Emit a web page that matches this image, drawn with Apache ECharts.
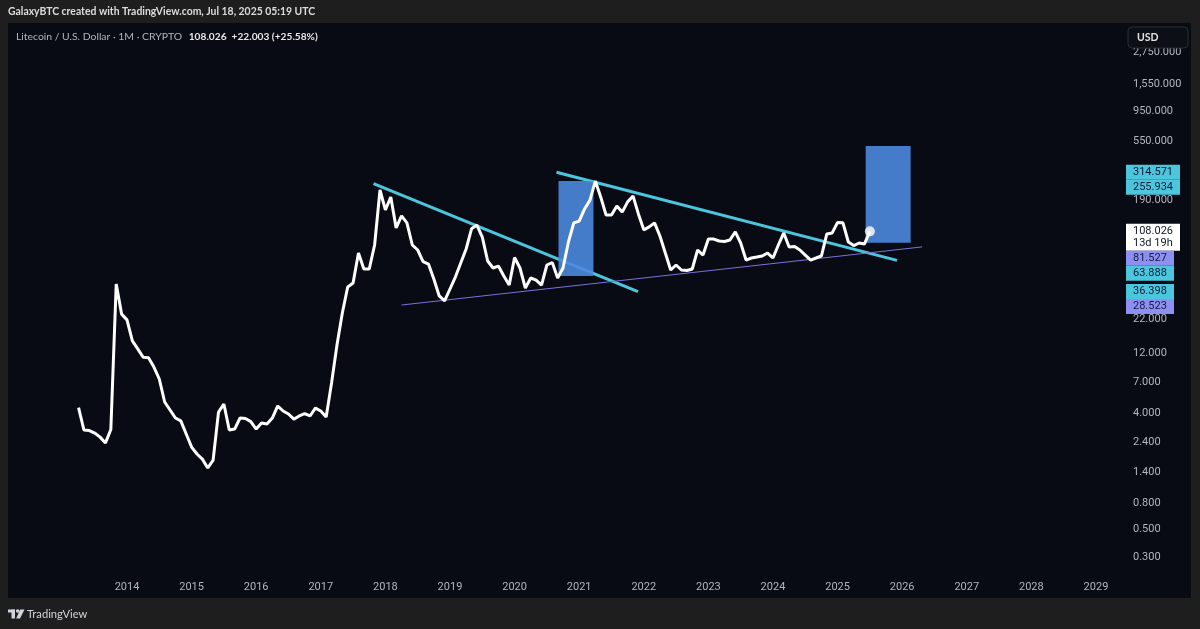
<!DOCTYPE html>
<html><head><meta charset="utf-8">
<script src="https://cdn.jsdelivr.net/npm/echarts@6/dist/echarts.min.js"></script>
<style>html,body{margin:0;padding:0;background:#1e1e1e;}#c{width:1200px;height:629px;}</style>
</head><body><div id="c"></div>
<script>
// ---- data (monthly closes, Litecoin / USD) ----
const months = [
 '2013-04','2013-05','2013-06','2013-07','2013-08','2013-09','2013-10','2013-11','2013-12',
 '2014-01','2014-02','2014-03','2014-04','2014-05','2014-06','2014-07','2014-08','2014-09','2014-10','2014-11','2014-12',
 '2015-01','2015-02','2015-03','2015-04','2015-05','2015-06','2015-07','2015-08','2015-09','2015-10','2015-11','2015-12',
 '2016-01','2016-02','2016-03','2016-04','2016-05','2016-06','2016-07','2016-08','2016-09','2016-10','2016-11','2016-12',
 '2017-01','2017-02','2017-03','2017-04','2017-05','2017-06','2017-07','2017-08','2017-09','2017-10','2017-11','2017-12',
 '2018-01','2018-02','2018-03','2018-04','2018-05','2018-06','2018-07','2018-08','2018-09','2018-10','2018-11','2018-12',
 '2019-01','2019-02','2019-03','2019-04','2019-05','2019-06','2019-07','2019-08','2019-09','2019-10','2019-11','2019-12',
 '2020-01','2020-02','2020-03','2020-04','2020-05','2020-06','2020-07','2020-08','2020-09','2020-10','2020-11','2020-12',
 '2021-01','2021-02','2021-03','2021-04','2021-05','2021-06','2021-07','2021-08','2021-09','2021-10','2021-11','2021-12',
 '2022-01','2022-02','2022-03','2022-04','2022-05','2022-06','2022-07','2022-08','2022-09','2022-10','2022-11','2022-12',
 '2023-01','2023-02','2023-03','2023-04','2023-05','2023-06','2023-07','2023-08','2023-09','2023-10','2023-11','2023-12',
 '2024-01','2024-02','2024-03','2024-04','2024-05','2024-06','2024-07','2024-08','2024-09','2024-10','2024-11','2024-12',
 '2025-01','2025-02','2025-03','2025-04','2025-05','2025-06','2025-07'
];
const closes = [
 4.46, 2.98, 2.95, 2.82, 2.62, 2.36, 3.01, 41.7, 24.2,
 21.8, 14.9, 12.9, 11.1, 11.0, 9.30, 7.49, 4.94, 4.28, 3.70, 3.51, 2.77,
 2.19, 1.93, 1.76, 1.50, 1.73, 4.12, 4.77, 2.98, 3.03, 3.70, 3.67, 3.47,
 3.03, 3.38, 3.32, 3.70, 4.60, 4.20, 3.98, 3.63, 3.84, 4.01, 3.84, 4.43,
 4.20, 3.77, 6.97, 13.8, 24.7, 39.5, 42.5, 73.0, 54.7, 54.7, 84.4, 228,
 159, 201, 115, 143, 126, 84.4, 77.1, 62.6, 59.8, 45.6, 33.6, 30.7,
 38.1, 47.3, 60.9, 78.5, 113, 121, 97.5, 63.2, 55.7, 57.7, 48.2, 40.9,
 67.3, 55.7, 38.8, 46.5, 44.8, 40.9, 58.8, 61.5, 46.5, 55.7, 89.1, 126,
 130, 162, 190, 268, 201, 145, 145, 171, 153, 184, 205, 148,
 111, 117, 126, 99.3, 73.0, 53.7, 58.8, 53.7, 53.2, 54.7, 77.1, 70.4,
 94.0, 94.0, 90.7, 89.9, 92.3, 107, 87.5, 64.3, 66.7, 67.9, 69.2, 73.0,
 66.7, 84.4, 105, 81.4, 82.1, 77.1, 70.4, 64.3, 66.7, 69.2, 103, 105,
 127, 126, 89.1, 83.6, 87.5, 86.02, 108.026
];
const yearTicks = [2014,2015,2016,2017,2018,2019,2020,2021,2022,2023,2024,2025,2026,2027,2028,2029];
const priceTicks = [2750,1550,950,550,190,22,12,7,4,2.4,1.4,0.8,0.5,0.3];
// drawings: [decimal year, price]
const cyanLine1 = [[2017.816, 255.934],[2021.910, 36.398]];
const cyanLine2 = [[2020.649, 314.571],[2025.920, 63.888]];
const purpleLine = [[2018.249, 28.523],[2026.307, 81.527]];
const boxes = [[2020.680, 48.2, 2021.221, 268],[2025.435, 88, 2026.131, 505]];
const badgeValues = [314.571, 255.934, 108.026, 81.527, 63.888, 36.398, 28.523];
const badgeKinds  = ['cyan','cyan','last','purple','cyan','cyan','purple'];
const countdown = '13d 19h';

// ---- helpers ----
function toYear(m){ const [y,mo]=m.split('-').map(Number); return y+(mo-1)/12; }
const linePts = months.map((m,i)=>[toYear(m), closes[i]]);
const lastPt = linePts[linePts.length-1];
function fmtPrice(v){
  const s = v.toFixed(3); const [a,b]=s.split('.');
  return a.replace(/\B(?=(\d{3})+(?!\d))/g, ',')+'.'+b;
}
const X_MIN = 2012.158, X_MAX = 2029.372;
const Y_MIN = 0.2168, Y_MAX = 4665;
const CYAN = '#4cc6dc', PURPLE_BADGE = '#8e8ff2', PURPLE_LINE = '#7c70dc';
const FONT = 'Roboto, "Noto Sans", sans-serif';
const UIFONT = 'Lato, Roboto, sans-serif';
const mctx = document.createElement('canvas').getContext('2d');
mctx.font = '11px ' + FONT;

const chart = echarts.init(document.getElementById('c'), null, {renderer:'canvas'});
chart.setOption({
  backgroundColor: '#1e1e1e',
  animation: false,
  grid: {left: 8, right: 80, top: 23, bottom: 54, containLabel: false},
  xAxis: {
    type: 'value', min: X_MIN, max: X_MAX,
    axisLine: {show:false}, axisTick: {show:false}, splitLine: {show:false},
    axisLabel: {customValues: yearTicks, formatter: v => String(Math.round(v)),
      color: '#b2b5be', fontSize: 11, fontFamily: FONT, margin: 7}
  },
  yAxis: {
    type: 'log', logBase: 10, min: Y_MIN, max: Y_MAX, position: 'right',
    axisLine: {show:false}, axisTick: {show:false}, splitLine: {show:false},
    axisLabel: {customValues: priceTicks, formatter: v => fmtPrice(v),
      color: '#b2b5be', fontSize: 11, fontFamily: FONT, margin: 13, align: 'left', padding: [2,0,0,0]}
  },
  graphic: [
    {type:'rect', z:-10, shape:{x:8, y:23, width:1183, height:575}, style:{fill:'#090b14'}},
    {type:'text', z:10, style:{x:8, y:12, text:'GalaxyBTC created with TradingView.com, Jul 18, 2025 05:19 UTC',
      fill:'#dcdcdc', font:'bold 10.4px '+UIFONT, verticalAlign:'middle'}},
    {type:'text', z:10, style:{x:16, y:37, text:'{a|Litecoin / U.S. Dollar · 1M · CRYPTO}  {b|108.026  +22.003 (+25.58%)}',
      verticalAlign:'middle',
      rich:{a:{fill:'#b2b5be', font:'10.4px '+UIFONT}, b:{fill:'#e8e8e8', font:'bold 10.2px '+UIFONT}}}},
    {type:'rect', z:50, shape:{x:1128, y:27, width:60, height:21, r:4}, style:{fill:'#0d0f17', stroke:'#2a2d36', lineWidth:1}},
    {type:'text', z:51, style:{x:1137, y:37.5, text:'USD', fill:'#e0e0e0', font:'bold 10.5px '+UIFONT, verticalAlign:'middle'}},
    // TradingView logo
    {type:'rect', z:10, shape:{x:8, y:609.5, width:7, height:3}, style:{fill:'#d1d4dc'}},
    {type:'rect', z:10, shape:{x:11.5, y:609.5, width:3.5, height:9}, style:{fill:'#d1d4dc'}},
    {type:'circle', z:10, shape:{cx:17.6, cy:611, r:1.7}, style:{fill:'#d1d4dc'}},
    {type:'polygon', z:10, shape:{points:[[20,609.5],[24.5,609.5],[20,618.5],[16.2,618.5]]}, style:{fill:'#d1d4dc'}},
    {type:'text', z:10, style:{x:27, y:614, text:'TradingView', fill:'#d1d4dc', font:'11.2px '+UIFONT, verticalAlign:'middle'}}
  ],
  series: [
    {type:'line', data: cyanLine1, symbol:'none', z:2, lineStyle:{color:CYAN, width:3}, silent:true},
    {type:'line', data: cyanLine2, symbol:'none', z:2, lineStyle:{color:CYAN, width:3}, silent:true},
    {type:'line', data: purpleLine, symbol:'none', z:2, lineStyle:{color:PURPLE_LINE, width:1}, silent:true},
    {type:'custom', z:3, data: boxes, silent:true,
      renderItem: (params, api) => {
        const p1 = api.coord([api.value(0), api.value(3)]);
        const p2 = api.coord([api.value(2), api.value(1)]);
        return {type:'rect', shape:{x:p1[0], y:p1[1], width:p2[0]-p1[0], height:p2[1]-p1[1]},
          style:{fill:'rgba(76,136,222,0.9)'}};
      }},
    {type:'line', data: linePts, symbol:'none', z:4, lineStyle:{color:'#ffffff', width:3}, silent:true},
    {type:'scatter', data:[lastPt], z:5, symbol:'circle', symbolSize:10, itemStyle:{color:'#ffffff'}, silent:true},
    {type:'custom', z:20, clip:false, silent:true,
      data: badgeValues.map((v,i)=>[X_MAX, v, i]),
      renderItem: (params, api) => {
        // lay out all badges top to bottom, pushing overlapping ones down
        let prevBottom = -Infinity; const lay = [];
        badgeValues.forEach((v,i)=>{
          const y = api.coord([X_MAX, v])[1];
          const h = badgeKinds[i]==='last' ? 27 : 15;
          let top = y - 7.5;
          if (top < prevBottom) top = prevBottom;
          lay.push({top, h}); prevBottom = top + h;
        });
        const i = api.value(2);
        const kind = badgeKinds[i];
        const txt = fmtPrice(badgeValues[i]);
        const x0 = api.coord([X_MAX, badgeValues[i]])[0] + 6;
        const w = Math.round(mctx.measureText(txt).width) + 14;
        const bg = kind==='cyan' ? CYAN : kind==='purple' ? PURPLE_BADGE : '#ffffff';
        const fg = kind==='last' ? '#131722' : '#131a3a';
        const L = lay[i];
        const children = [
          {type:'rect', shape:{x:x0, y:L.top, width:w, height:L.h}, style:{fill:bg}},
          {type:'text', style:{x:x0+7, y:L.top+7.5, text:txt, fill:fg, font:'11px '+FONT, verticalAlign:'middle'}}
        ];
        if (kind==='last') children.push({type:'text', style:{x:x0+7, y:L.top+19, text:countdown, fill:fg, font:'11px '+FONT, verticalAlign:'middle'}});
        return {type:'group', children};
      }}
  ]
});
</script>
</body></html>
